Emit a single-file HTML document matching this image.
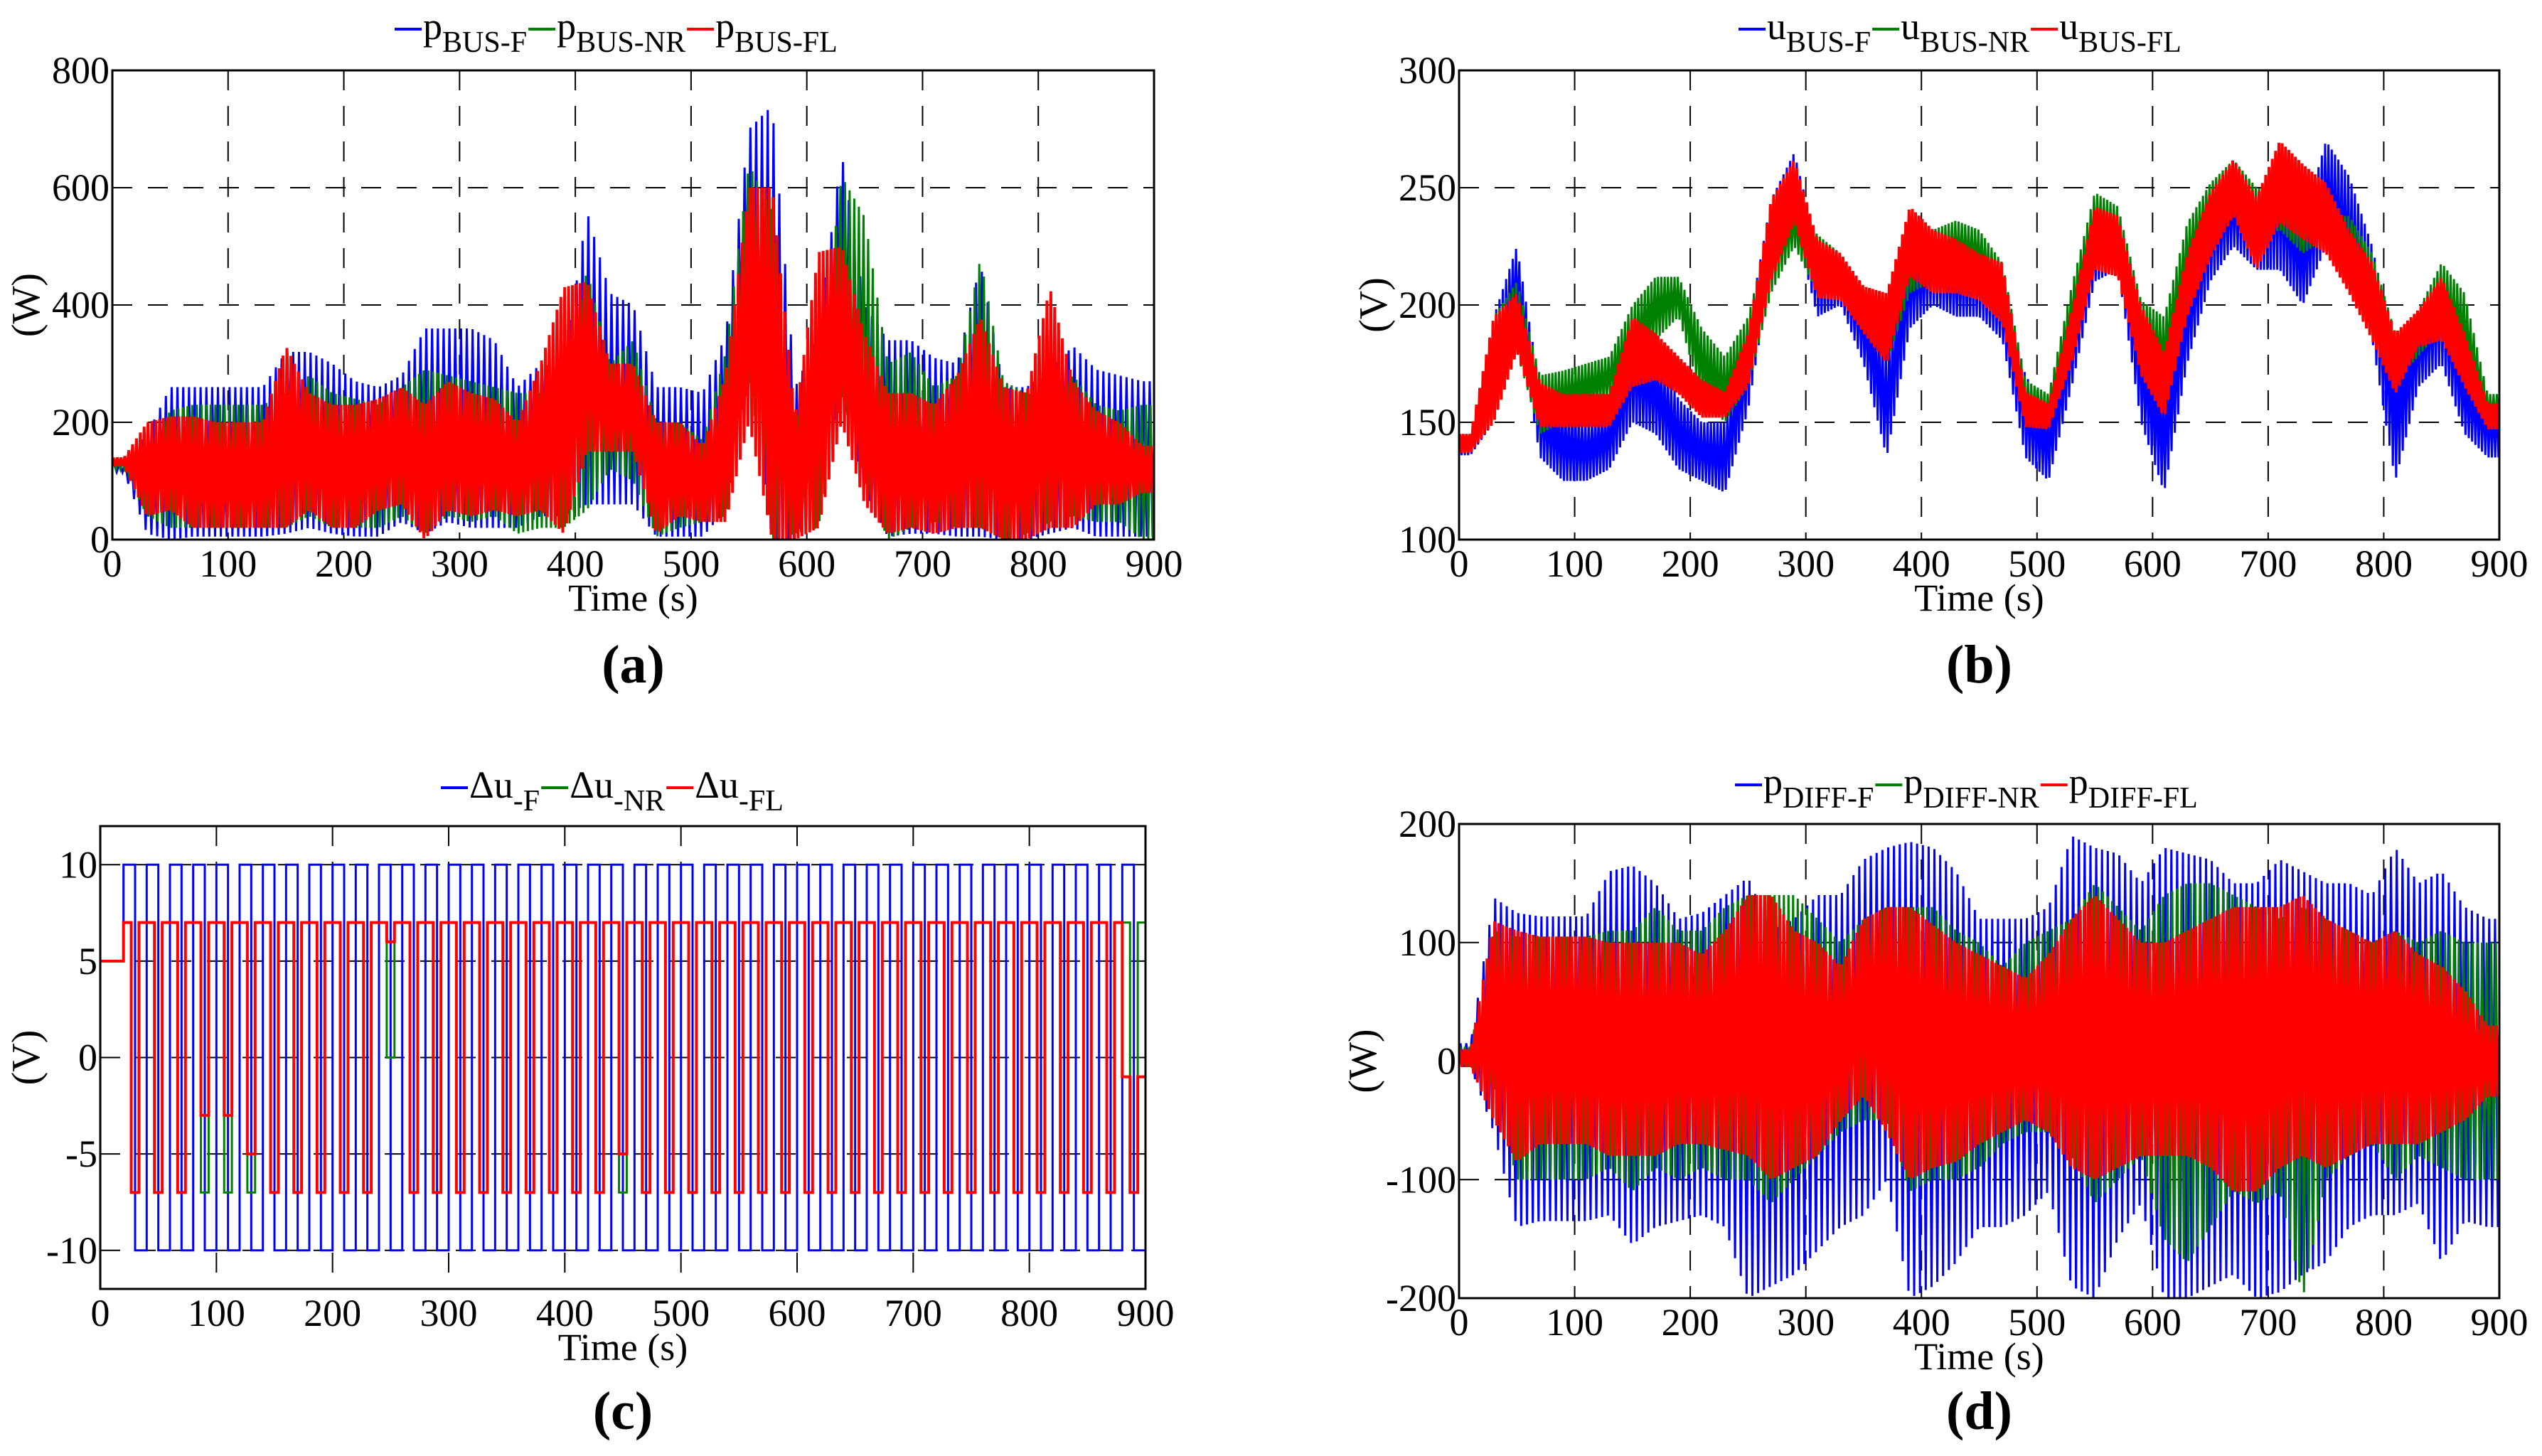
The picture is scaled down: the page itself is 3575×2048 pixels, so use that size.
<!DOCTYPE html>
<html><head><meta charset="utf-8">
<style>
html,body{margin:0;padding:0;background:#fff;}
svg{display:block;}
text{font-family:"Liberation Serif",serif;fill:#000;}
</style></head>
<body>
<svg id="fig" width="3575" height="2048" viewBox="0 0 3575 2048" xmlns="http://www.w3.org/2000/svg"></svg>
<script>
// ---- data (20 s bins, 0..900 s): low/high envelopes per bin ----
const binStarts = [0,20,40,60,80,100,120,140,160,180,200,220,240,260,280,300,320,340,360,380,400,420,440,460,480,500,520,540,560,580,600,620,640,660,680,700,720,740,760,780,800,820,840,860,880];
const xTicks = [0,100,200,300,400,500,600,700,800,900];

// Panel a: p_BUS (W)
const aTicks = [0,200,400,600,800];
const aBlueLo = [115,10,0,5,5,5,5,10,20,10,5,5,30,10,30,20,20,20,40,40,60,60,60,5,5,5,50,300,0,0,100,250,80,5,10,10,5,5,0,0,10,20,5,5,5];
const aBlueHi = [130,180,260,260,260,260,260,320,320,300,270,260,280,360,360,360,340,260,300,290,560,420,400,260,260,250,350,700,740,260,350,660,400,340,340,310,300,470,260,260,290,330,290,280,270];
const aGreenLo = [120,40,20,20,20,20,20,20,40,20,20,20,40,10,40,30,40,10,20,20,50,120,100,5,20,30,40,280,0,10,20,250,100,0,20,30,20,20,0,10,30,40,30,30,0];
const aGreenHi = [135,150,220,230,230,230,230,250,280,250,240,230,260,290,280,270,260,250,250,260,460,300,340,200,200,170,320,640,560,200,280,620,550,300,320,260,280,480,270,250,240,280,230,220,230];
const aRedLo = [125,40,50,20,20,20,20,20,50,20,20,50,60,0,50,40,50,40,50,10,150,150,150,10,40,30,30,200,0,0,20,200,60,10,20,10,20,20,0,0,20,20,60,60,80];
const aRedHi = [140,200,210,210,200,200,200,330,250,230,230,240,260,230,270,250,240,200,300,430,440,300,300,200,200,160,280,600,600,210,490,500,350,250,250,230,280,380,260,250,430,270,220,200,160];

// Panel b: u_BUS (V)
const bTicks = [100,150,200,250,300];
const bBlueLo = [136,150,195,135,125,125,130,150,145,130,125,120,155,215,235,195,200,175,135,190,200,195,195,185,135,125,165,210,215,150,120,175,210,225,215,215,200,225,205,185,125,165,175,145,135];
const bBlueHi = [145,195,225,165,155,150,155,190,180,160,150,150,190,245,265,225,220,205,180,225,230,225,225,210,170,155,195,235,240,190,165,210,245,255,245,265,235,270,255,225,180,195,215,175,160];
const bGreenLo = [137,150,180,145,150,155,160,170,185,195,160,150,165,205,225,205,205,190,175,205,210,215,212,195,150,148,185,225,220,175,165,205,232,242,228,232,222,228,215,202,168,178,190,175,150];
const bGreenHi = [145,195,210,170,172,175,178,200,212,212,190,178,195,235,242,230,222,208,198,228,232,236,232,218,168,162,208,248,242,202,195,235,252,262,250,248,242,238,238,222,188,198,218,205,162];
const bRedLo = [137,150,180,148,148,148,148,165,168,162,152,152,165,210,235,203,202,188,175,212,205,205,202,192,148,147,175,215,212,170,152,195,220,238,215,235,228,222,205,185,162,182,185,165,147];
const bRedHi = [145,195,205,167,162,162,162,195,188,178,168,163,188,245,262,228,222,208,205,242,232,228,222,218,163,158,198,242,238,200,180,222,248,262,246,270,260,252,232,218,188,198,212,188,158];

// Panel c: delta u (V)
const cTicks = [-10,-5,0,5,10];
const cBlueLo = [5,-10,-10,-10,-10,-10,-10,-10,-10,-10,-10,-10,-10,-10,-10,-10,-10,-10,-10,-10,-10,-10,-10,-10,-10,-10,-10,-10,-10,-10,-10,-10,-10,-10,-10,-10,-10,-10,-10,-10,-10,-10,-10,-10,-10];
const cBlueHi = [5,10,10,10,10,10,10,10,10,10,10,10,10,10,10,10,10,10,10,10,10,10,10,10,10,10,10,10,10,10,10,10,10,10,10,10,10,10,10,10,10,10,10,10,10];
const cGreenLo = [5,-7,-7,-7,-7,-7,-7,-7,-7,-7,-7,-7,0,-7,-7,-7,-7,-7,-7,-7,-7,-7,-7,-7,-7,-7,-7,-7,-7,-7,-7,-7,-7,-7,-7,-7,-7,-7,-7,-7,-7,-7,-7,-7,-7];
const cGreenHi = [5,7,7,7,7,7,7,7,7,7,7,7,7,7,7,7,7,7,7,7,7,7,7,7,7,7,7,7,7,7,7,7,7,7,7,7,7,7,7,7,7,7,7,7,7];
const cRedLo = [5,-7,-7,-7,-3,-3,-5,-7,-7,-7,-7,-7,6,-7,-7,-7,-7,-7,-7,-7,-7,-7,-5,-7,-7,-7,-7,-7,-7,-7,-7,-7,-7,-7,-7,-7,-7,-7,-7,-7,-7,-7,-7,-7,-7];
const cRedHi = [5,7,7,7,7,7,7,7,7,7,7,7,7,7,7,7,7,7,7,7,7,7,7,7,7,7,7,7,7,7,7,7,7,7,7,7,7,7,7,7,7,7,7,7,-1];

// Panel d: p_DIFF (W)
const dTicks = [-200,-100,0,100,200];
const dBlueLo = [-5,-60,-140,-135,-135,-135,-130,-155,-140,-135,-130,-140,-200,-190,-180,-160,-140,-130,-100,-200,-190,-170,-140,-140,-130,-110,-190,-200,-150,-120,-200,-200,-190,-180,-200,-195,-180,-170,-140,-130,-130,-120,-170,-135,-140];
const dBlueHi = [15,138,125,122,122,122,160,165,150,120,125,140,155,110,120,140,140,170,180,185,180,160,120,120,120,130,190,180,175,150,180,175,170,150,150,170,160,150,150,140,180,150,160,130,120];
const dGreenLo = [-5,-20,-100,-100,-100,-100,-90,-110,-90,-100,-90,-100,-100,-120,-100,-80,-60,-50,-50,-110,-100,-100,-90,-70,-60,-60,-80,-120,-100,-80,-150,-170,-140,-110,-120,-110,-200,-100,-80,-70,-100,-80,-90,-100,-100];
const dGreenHi = [12,110,105,105,105,105,110,110,130,110,110,130,140,140,140,120,100,120,130,130,130,110,100,80,100,110,120,150,130,110,140,150,150,140,130,120,130,120,110,100,110,100,110,100,100];
const dRedLo = [-5,-50,-85,-70,-70,-70,-80,-80,-80,-70,-70,-75,-80,-100,-90,-80,-50,-30,-60,-100,-90,-85,-70,-60,-50,-60,-90,-100,-90,-80,-80,-80,-90,-110,-110,-90,-80,-90,-80,-70,-70,-70,-60,-50,-30];
const dRedHi = [10,118,110,105,105,105,100,100,100,100,90,110,140,140,110,100,80,120,130,130,115,100,90,80,70,90,120,140,120,100,100,110,120,130,130,130,140,120,110,100,110,90,80,60,30];

const BLUE = '#0000ff', GREEN = '#008000', RED = '#ff0000';
const NS = 'http://www.w3.org/2000/svg';
const svg = document.getElementById('fig');

function mk(tag, attrs, parent) {
  const e = document.createElementNS(NS, tag);
  for (const k in attrs) e.setAttribute(k, attrs[k]);
  (parent || svg).appendChild(e);
  return e;
}

// linear interpolation of a per-bin array at time t (bin centres at start+10)
function interp(arr, t) {
  let f = (t - 10) / 20;
  if (f <= 0) return arr[0];
  if (f >= arr.length - 1) return arr[arr.length - 1];
  const i = Math.floor(f), r = f - i;
  return arr[i] * (1 - r) + arr[i + 1] * r;
}

function drawPanel(p) {
  const g = mk('g', {});
  
  
  const xS = t => p.x0 + (t - 0) / 900 * (p.x1 - p.x0);
  const yS = v => p.y1 - (v - p.ymin) / (p.ymax - p.ymin) * (p.y1 - p.y0);

  const cid = 'clip-' + p.name;
  const cp = mk('clipPath', {id: cid}, g);
  mk('rect', {x: p.x0, y: p.y0, width: p.x1 - p.x0, height: p.y1 - p.y0}, cp);

  const grid = mk('g', {}, g);
  
  
  xTicks.forEach(t => {
    if (t === 0 || t === 900) return;
    const l = mk('line', {x1: xS(t), x2: xS(t), y1: p.y0, y2: p.y1, stroke: '#000', 'stroke-width': 2, 'stroke-dasharray': '28,22'}, grid);
    
    
  });
  p.yTicks.forEach(v => {
    if (v === p.ymin || v === p.ymax) return;
    const l = mk('line', {x1: p.x0, x2: p.x1, y1: yS(v), y2: yS(v), stroke: '#000', 'stroke-width': 2, 'stroke-dasharray': '28,22'}, grid);
    
    
  });

  const sg = mk('g', {'clip-path': 'url(#' + cid + ')'}, g);
  p.series.forEach(s => {
    let pts = [];
    binStarts.forEach((b, i) => {
      const K = s.k;
      for (let j = 0; j < K; j++) {
        const t0 = b + j * 20 / K, t1 = b + (j + 1) * 20 / K;
        const up = (j % 2 === 0);
        if (p.step) {
          const v = up ? s.hi[i] : s.lo[i];
          pts.push([xS(t0), yS(v)], [xS(t1), yS(v)]);
        } else {
          const tm = (t0 + t1) / 2;
          const v = up ? interp(s.hi, tm) : interp(s.lo, tm);
          pts.push([xS(tm), yS(v)]);
        }
      }
    });
    const d = 'M' + pts.map(q => q[0].toFixed(2) + ',' + q[1].toFixed(2)).join('L');
    const path = mk('path', {d: d, fill: 'none', stroke: s.color, 'stroke-width': s.w, 'stroke-linejoin': 'miter'}, sg);
    
    
  });

  const box = mk('rect', {x: p.x0, y: p.y0, width: p.x1 - p.x0, height: p.y1 - p.y0, fill: 'none', stroke: '#000', 'stroke-width': 3}, g);
  
  

  xTicks.forEach(t => {
    const tx = mk('text', {x: xS(t), y: p.y1 + 52, 'font-size': 54, 'text-anchor': 'middle'}, g);
    tx.textContent = t;
    
    
  });
  p.yTicks.forEach(v => {
    const tx = mk('text', {x: p.x0 - 4, y: yS(v) + 18, 'font-size': 54, 'text-anchor': 'end'}, g);
    tx.textContent = v;
    
    
  });
  const xl = mk('text', {x: (p.x0 + p.x1) / 2, y: p.y1 + 100, 'font-size': 54, 'text-anchor': 'middle'}, g);
  xl.textContent = 'Time (s)';
  
  
  const yx = p.ylx, yy = (p.y0 + p.y1) / 2;
  const yl = mk('text', {x: yx, y: yy, 'font-size': 56, 'text-anchor': 'middle', transform: 'rotate(-90 ' + yx + ' ' + yy + ')'}, g);
  yl.textContent = p.ylabel;
  
  
  const cap = mk('text', {x: (p.x0 + p.x1) / 2, y: p.capY, 'font-size': 76, 'font-weight': 'bold', 'text-anchor': 'middle'}, g);
  cap.textContent = p.caption;
  
  

  const lg = mk('g', {}, g);
  
  
  let lx = p.legX;
  p.series.forEach(s => {
    const seg = mk('line', {x1: lx, x2: lx + 38, y1: p.legY - 14, y2: p.legY - 14, stroke: s.color, 'stroke-width': 4}, lg);
    
    
    lx += 40;
    const t = mk('text', {x: lx, y: p.legY, 'font-size': 54}, lg);
    
    
    const a = mk('tspan', {}, t); a.textContent = p.legBase;
    const b = mk('tspan', {dy: 18, 'font-size': 42}, t); b.textContent = s.sub;
    lx += t.getComputedTextLength() + 2;
  });
}

drawPanel({name: 'panel-a', x0: 158, x1: 1623, y0: 99, y1: 759, ymin: 0, ymax: 800, yTicks: aTicks,
  ylabel: '(W)', ylx: 55, caption: '(a)', capY: 960, legX: 555, legY: 55, legBase: 'p',
  series: [
    {id: 'p-bus-f', sub: 'BUS-F', color: BLUE, w: 3, k: 8, lo: aBlueLo, hi: aBlueHi},
    {id: 'p-bus-nr', sub: 'BUS-NR', color: GREEN, w: 3, k: 10, lo: aGreenLo, hi: aGreenHi},
    {id: 'p-bus-fl', sub: 'BUS-FL', color: RED, w: 4, k: 12, lo: aRedLo, hi: aRedHi}]});

drawPanel({name: 'panel-b', x0: 2052, x1: 3515, y0: 99, y1: 759, ymin: 100, ymax: 300, yTicks: bTicks,
  ylabel: '(V)', ylx: 1950, caption: '(b)', capY: 960, legX: 2445, legY: 55, legBase: 'u',
  series: [
    {id: 'u-bus-f', sub: 'BUS-F', color: BLUE, w: 3, k: 14, lo: bBlueLo, hi: bBlueHi},
    {id: 'u-bus-nr', sub: 'BUS-NR', color: GREEN, w: 3, k: 14, lo: bGreenLo, hi: bGreenHi},
    {id: 'u-bus-fl', sub: 'BUS-FL', color: RED, w: 4, k: 14, lo: bRedLo, hi: bRedHi}]});

drawPanel({name: 'panel-c', x0: 141, x1: 1611, y0: 1162, y1: 1813, ymin: -12, ymax: 12, yTicks: cTicks, step: true,
  ylabel: '(V)', ylx: 55, caption: '(c)', capY: 2010, legX: 620, legY: 1122, legBase: 'Δu',
  series: [
    {id: 'du-f', sub: '-F', color: BLUE, w: 3, k: 2, lo: cBlueLo, hi: cBlueHi},
    {id: 'du-nr', sub: '-NR', color: GREEN, w: 3, k: 3, lo: cGreenLo, hi: cGreenHi},
    {id: 'du-fl', sub: '-FL', color: RED, w: 4, k: 3, lo: cRedLo, hi: cRedHi}]});

drawPanel({name: 'panel-d', x0: 2052, x1: 3515, y0: 1159, y1: 1826, ymin: -200, ymax: 200, yTicks: dTicks,
  ylabel: '(W)', ylx: 1935, caption: '(d)', capY: 2010, legX: 2440, legY: 1118, legBase: 'p',
  series: [
    {id: 'p-diff-f', sub: 'DIFF-F', color: BLUE, w: 3, k: 8, lo: dBlueLo, hi: dBlueHi},
    {id: 'p-diff-nr', sub: 'DIFF-NR', color: GREEN, w: 3, k: 10, lo: dGreenLo, hi: dGreenHi},
    {id: 'p-diff-fl', sub: 'DIFF-FL', color: RED, w: 4, k: 12, lo: dRedLo, hi: dRedHi}]});
</script>
</body></html>
